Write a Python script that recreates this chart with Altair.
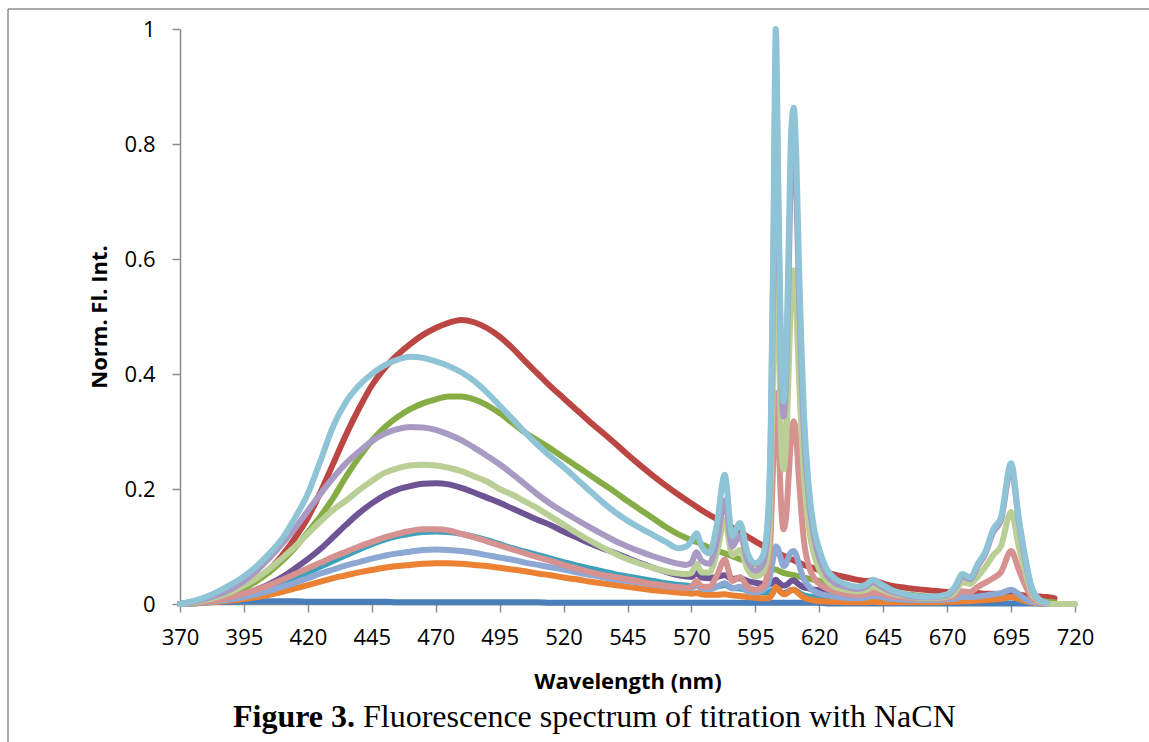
import altair as alt
import pandas as pd

# Wavelength grid (nm): coarse over the broad band, finer across the sharp emission lines
WL_BROAD = [370, 375, 380, 385, 390, 395, 400, 405, 410, 415,
            420, 425, 430, 435, 440, 445, 450, 455, 460, 465,
            470, 475, 480, 485, 490, 495, 500, 505, 510, 515,
            520, 525, 530, 535, 540, 545, 550, 555, 560, 565]
WL_LINES = [568, 570, 572, 574, 577, 580, 583, 586, 589, 592,
            595, 598, 600, 601, 602, 603, 604, 605, 606, 607,
            608, 609, 610, 611, 612, 613, 614, 616, 618, 620,
            623, 626, 630, 635, 638, 641, 644, 648, 652, 656,
            660, 665, 670, 673, 676, 679, 682, 685, 688, 691,
            695, 698, 700, 703, 706, 709, 712, 716, 720]
WAVELENGTH = WL_BROAD + WL_LINES

# Normalised fluorescence intensity of each titration step (broad band + line region)
S1 = [0, 0.002, 0.003, 0.004, 0.004, 0.005, 0.005, 0.005, 0.005, 0.005,
      0.004, 0.004, 0.004, 0.004, 0.004, 0.004, 0.004, 0.003, 0.003, 0.003,
      0.003, 0.003, 0.003, 0.003, 0.003, 0.003, 0.003, 0.003, 0.003, 0.002,
      0.002, 0.002, 0.002, 0.002, 0.002, 0.002, 0.002, 0.002, 0.002, 0.002] + \
     [0.002, 0.002, 0.002, 0.002, 0.002, 0.002, 0.002, 0.002, 0.002, 0.002,
      0.002, 0.002, 0.002, 0.002, 0.002, 0.002, 0.002, 0.002, 0.002, 0.002,
      0.002, 0.002, 0.002, 0.002, 0.002, 0.002, 0.002, 0.002, 0.002, 0.002,
      0.001, 0.001, 0.001, 0.001, 0.001, 0.001, 0.001, 0.001, 0.001, 0.001,
      0.001, 0.001, 0.001, 0.001, 0.001, 0.001, 0.001, 0.001, 0.001, 0.001,
      0.001, 0.001, 0.001, 0.001, 0.001, 0.0005, 0.0, None, None]

S2 = [0, 0.002, 0.005, 0.010, 0.018, 0.028, 0.042, 0.060, 0.085, 0.115,
      0.150, 0.195, 0.245, 0.295, 0.340, 0.380, 0.410, 0.433, 0.452, 0.468,
      0.480, 0.489, 0.494, 0.490, 0.480, 0.465, 0.445, 0.422, 0.400, 0.378,
      0.358, 0.338, 0.318, 0.299, 0.280, 0.260, 0.241, 0.223, 0.206, 0.190] + \
     [0.181, 0.175, 0.169, 0.163, 0.155, 0.148, 0.141, 0.133, 0.125, 0.117,
      0.109, 0.101, 0.096, 0.094, 0.092, 0.090, 0.088, 0.086, 0.084, 0.082,
      0.080, 0.078, 0.076, 0.074, 0.072, 0.070, 0.068, 0.065, 0.062, 0.059,
      0.055, 0.051, 0.047, 0.042, 0.040, 0.041, 0.037, 0.032, 0.029, 0.027,
      0.025, 0.023, 0.021, 0.020, 0.020, 0.019, 0.019, 0.018, 0.018, 0.017,
      0.017, 0.016, 0.015, 0.014, 0.013, 0.012, 0.010, None, None]

S3 = [0, 0.002, 0.005, 0.010, 0.017, 0.027, 0.040, 0.056, 0.075, 0.098,
      0.125, 0.153, 0.185, 0.222, 0.255, 0.284, 0.307, 0.325, 0.339, 0.349,
      0.356, 0.361, 0.361, 0.356, 0.346, 0.332, 0.315, 0.298, 0.284, 0.270,
      0.255, 0.240, 0.225, 0.210, 0.195, 0.179, 0.164, 0.149, 0.134, 0.121] + \
     [0.115, 0.111, 0.108, 0.104, 0.098, 0.093, 0.088, 0.083, 0.078, 0.074,
      0.070, 0.065, 0.062, 0.061, 0.060, 0.060, 0.058, 0.056, 0.054, 0.053,
      0.052, 0.051, 0.050, 0.049, 0.048, 0.047, 0.046, 0.044, 0.042, 0.040,
      0.037, 0.034, 0.031, 0.028, 0.029, 0.033, 0.028, 0.022, 0.018, 0.016,
      0.014, 0.012, 0.011, 0.010, 0.010, 0.009, 0.009, 0.009, 0.010, 0.011,
      0.014, 0.011, 0.008, 0.006, 0.005, 0.004, 0.003, None, None]

S4 = [0, 0.002, 0.004, 0.007, 0.010, 0.016, 0.025, 0.035, 0.047, 0.062,
      0.078, 0.096, 0.117, 0.138, 0.158, 0.175, 0.189, 0.199, 0.205, 0.209,
      0.210, 0.208, 0.202, 0.194, 0.185, 0.176, 0.166, 0.156, 0.146, 0.137,
      0.126, 0.116, 0.106, 0.097, 0.089, 0.080, 0.071, 0.063, 0.056, 0.050] + \
     [0.048, 0.047, 0.054, 0.046, 0.045, 0.047, 0.050, 0.044, 0.045, 0.040,
      0.037, 0.035, 0.034, 0.035, 0.038, 0.042, 0.038, 0.034, 0.032, 0.033,
      0.036, 0.040, 0.041, 0.038, 0.034, 0.031, 0.029, 0.027, 0.025, 0.024,
      0.022, 0.020, 0.018, 0.016, 0.016, 0.018, 0.016, 0.013, 0.011, 0.010,
      0.009, 0.009, 0.009, 0.010, 0.012, 0.012, 0.013, 0.014, 0.016, 0.017,
      0.022, 0.016, 0.010, 0.005, 0.002, 0.001, None, None, None]

S5 = [0, 0.001, 0.003, 0.006, 0.010, 0.015, 0.021, 0.028, 0.036, 0.045,
      0.055, 0.065, 0.075, 0.085, 0.095, 0.104, 0.112, 0.118, 0.122, 0.125,
      0.126, 0.125, 0.122, 0.117, 0.111, 0.104, 0.097, 0.091, 0.085, 0.079,
      0.073, 0.067, 0.062, 0.057, 0.052, 0.048, 0.044, 0.040, 0.036, 0.033] + \
     [0.032, 0.031, 0.034, 0.030, 0.029, 0.030, 0.033, 0.028, 0.027, 0.024,
      0.022, 0.020, 0.020, 0.022, 0.025, 0.028, 0.025, 0.021, 0.019, 0.020,
      0.022, 0.024, 0.025, 0.023, 0.020, 0.017, 0.015, 0.013, 0.012, 0.011,
      0.010, 0.009, 0.008, 0.007, 0.007, 0.008, 0.007, 0.006, 0.005, 0.005,
      0.005, 0.005, 0.005, 0.006, 0.007, 0.007, 0.008, 0.008, 0.009, 0.010,
      0.012, 0.008, 0.005, 0.002, 0.001, 0.000, None, None, None]

S6 = [0, 0.001, 0.002, 0.004, 0.006, 0.009, 0.012, 0.016, 0.021, 0.027,
      0.033, 0.039, 0.045, 0.050, 0.055, 0.059, 0.063, 0.066, 0.068, 0.070,
      0.071, 0.071, 0.070, 0.068, 0.066, 0.063, 0.060, 0.057, 0.053, 0.050,
      0.046, 0.043, 0.039, 0.036, 0.033, 0.030, 0.027, 0.024, 0.022, 0.020] + \
     [0.019, 0.018, 0.019, 0.017, 0.016, 0.016, 0.017, 0.015, 0.014, 0.012,
      0.011, 0.010, 0.010, 0.013, 0.020, 0.029, 0.026, 0.020, 0.017, 0.018,
      0.021, 0.024, 0.025, 0.022, 0.018, 0.014, 0.011, 0.008, 0.006, 0.005,
      0.004, 0.004, 0.003, 0.003, 0.003, 0.004, 0.003, 0.003, 0.003, 0.003,
      0.003, 0.003, 0.004, 0.004, 0.005, 0.005, 0.006, 0.007, 0.008, 0.009,
      0.012, 0.009, 0.006, 0.003, 0.001, 0.000, None, None, None]

S7 = [0, 0.001, 0.003, 0.005, 0.008, 0.012, 0.017, 0.023, 0.030, 0.037,
      0.045, 0.053, 0.060, 0.067, 0.073, 0.079, 0.084, 0.088, 0.091, 0.094,
      0.095, 0.094, 0.092, 0.089, 0.085, 0.081, 0.077, 0.072, 0.068, 0.064,
      0.060, 0.055, 0.051, 0.047, 0.043, 0.040, 0.037, 0.034, 0.031, 0.029] + \
     [0.028, 0.028, 0.032, 0.027, 0.026, 0.030, 0.036, 0.027, 0.030, 0.022,
      0.020, 0.024, 0.035, 0.055, 0.080, 0.100, 0.095, 0.078, 0.066, 0.070,
      0.082, 0.090, 0.092, 0.085, 0.070, 0.055, 0.043, 0.030, 0.022, 0.018,
      0.015, 0.013, 0.011, 0.010, 0.011, 0.014, 0.012, 0.009, 0.008, 0.007,
      0.007, 0.007, 0.008, 0.009, 0.012, 0.012, 0.013, 0.015, 0.017, 0.019,
      0.025, 0.017, 0.010, 0.004, 0.001, 0.000, None, None, None]

S8 = [0, 0.002, 0.004, 0.007, 0.012, 0.018, 0.025, 0.033, 0.042, 0.052,
      0.062, 0.072, 0.082, 0.091, 0.100, 0.108, 0.116, 0.122, 0.127, 0.130,
      0.130, 0.128, 0.122, 0.116, 0.109, 0.102, 0.095, 0.088, 0.081, 0.075,
      0.068, 0.062, 0.056, 0.051, 0.047, 0.043, 0.039, 0.035, 0.032, 0.029] + \
     [0.028, 0.030, 0.040, 0.030, 0.030, 0.050, 0.077, 0.040, 0.047, 0.030,
      0.025, 0.030, 0.060, 0.120, 0.250, 0.367, 0.300, 0.180, 0.130, 0.150,
      0.220, 0.290, 0.318, 0.290, 0.220, 0.160, 0.110, 0.065, 0.045, 0.035,
      0.027, 0.022, 0.018, 0.016, 0.017, 0.020, 0.018, 0.014, 0.012, 0.010,
      0.010, 0.010, 0.011, 0.014, 0.022, 0.021, 0.030, 0.037, 0.045, 0.055,
      0.092, 0.060, 0.038, 0.012, 0.003, 0.001, None, None, None]

S9 = [0, 0.003, 0.007, 0.013, 0.021, 0.032, 0.045, 0.061, 0.080, 0.100,
      0.122, 0.144, 0.164, 0.180, 0.198, 0.214, 0.228, 0.236, 0.241, 0.242,
      0.241, 0.237, 0.231, 0.222, 0.213, 0.200, 0.190, 0.178, 0.166, 0.152,
      0.138, 0.124, 0.111, 0.099, 0.088, 0.078, 0.070, 0.063, 0.057, 0.053] + \
     [0.052, 0.054, 0.070, 0.055, 0.055, 0.090, 0.146, 0.085, 0.094, 0.060,
      0.048, 0.055, 0.090, 0.200, 0.420, 0.670, 0.500, 0.300, 0.234, 0.280,
      0.400, 0.540, 0.580, 0.520, 0.400, 0.300, 0.220, 0.130, 0.085, 0.060,
      0.040, 0.030, 0.025, 0.022, 0.024, 0.030, 0.026, 0.019, 0.015, 0.012,
      0.011, 0.011, 0.013, 0.020, 0.038, 0.035, 0.048, 0.065, 0.085, 0.100,
      0.160, 0.100, 0.065, 0.020, 0.005, 0.001, 0.000, 0.000, 0.000]

S10 = [0, 0.004, 0.009, 0.016, 0.026, 0.040, 0.058, 0.080, 0.105, 0.132,
       0.162, 0.192, 0.220, 0.245, 0.265, 0.283, 0.296, 0.304, 0.308, 0.307,
       0.303, 0.295, 0.285, 0.272, 0.258, 0.243, 0.226, 0.208, 0.190, 0.174,
       0.160, 0.147, 0.134, 0.122, 0.110, 0.100, 0.091, 0.083, 0.076, 0.070] + \
      [0.068, 0.072, 0.090, 0.075, 0.070, 0.110, 0.180, 0.100, 0.120, 0.075,
       0.058, 0.070, 0.140, 0.280, 0.580, 0.930, 0.680, 0.420, 0.326, 0.390,
       0.570, 0.760, 0.800, 0.720, 0.550, 0.410, 0.300, 0.180, 0.115, 0.080,
       0.050, 0.037, 0.030, 0.026, 0.029, 0.038, 0.031, 0.022, 0.017, 0.013,
       0.012, 0.012, 0.015, 0.027, 0.048, 0.043, 0.066, 0.088, 0.125, 0.145,
       0.235, 0.145, 0.090, 0.027, 0.007, 0.002, None, None, None]

S11 = [0, 0.005, 0.012, 0.022, 0.034, 0.048, 0.066, 0.088, 0.114, 0.150,
       0.192, 0.250, 0.310, 0.352, 0.380, 0.400, 0.415, 0.425, 0.430, 0.428,
       0.422, 0.414, 0.403, 0.388, 0.368, 0.345, 0.322, 0.298, 0.276, 0.256,
       0.238, 0.218, 0.198, 0.178, 0.160, 0.145, 0.132, 0.120, 0.108, 0.097] + \
      [0.100, 0.110, 0.123, 0.100, 0.088, 0.140, 0.225, 0.118, 0.141, 0.088,
       0.071, 0.085, 0.160, 0.300, 0.620, 1.000, 0.720, 0.450, 0.352, 0.420,
       0.620, 0.820, 0.863, 0.780, 0.600, 0.450, 0.330, 0.200, 0.130, 0.095,
       0.060, 0.045, 0.035, 0.030, 0.033, 0.042, 0.035, 0.025, 0.019, 0.015,
       0.013, 0.013, 0.017, 0.030, 0.052, 0.046, 0.070, 0.092, 0.130, 0.150,
       0.245, 0.150, 0.095, 0.030, 0.008, 0.002, None, None, None]

SERIES = [S1, S2, S3, S4, S5, S6, S7, S8, S9, S10, S11]
COLORS = ["#4A7EBB", "#BB4643", "#86AC45", "#6E5495", "#3DA1BB", "#EB8132",
          "#8DA8D2", "#D69290", "#B9CF95", "#A89AC2", "#8FC3D6"]

PLOT_W, PLOT_H = 895, 575
PAD_L, PAD_T = 180, 29

AXIS_GRAY = "#8C8C8C"
SANS = "Open Sans"
SERIF = "Liberation Serif"

x_enc = alt.X(
    "wl:Q",
    scale=alt.Scale(domain=[370, 720], nice=False, zero=False),
    axis=alt.Axis(
        values=list(range(370, 721, 25)),
        title="Wavelength (nm)",
        titleY=77, titleBaseline="middle",
        labelBaseline="middle", labelPadding=25,
        labelOverlap=False, labelFlush=False,
    ),
)
y_enc = alt.Y(
    "v:Q",
    scale=alt.Scale(domain=[0, 1], nice=False),
    axis=alt.Axis(
        values=[0, 0.2, 0.4, 0.6, 0.8, 1.0],
        format=".1~f",
        title="Norm. Fl. Int.",
        titleX=-81, titleY=PLOT_H / 2, titleAngle=270,
        titleAlign="center", titleBaseline="middle",
        labelPadding=17,
    ),
)

layers = []
for vals, col in zip(SERIES, COLORS):
    df = pd.DataFrame({"wl": WAVELENGTH, "v": vals}).dropna()
    layers.append(
        alt.Chart(df).mark_line(
            color=col, strokeWidth=6, interpolate="monotone",
            strokeJoin="round", strokeCap="round",
        ).encode(x=x_enc, y=y_enc)
    )

one_row = pd.DataFrame({"k": [0]})

# Outer chart border (left and top edges)
border_left = alt.Chart(one_row).mark_rule(color=AXIS_GRAY, strokeWidth=1.5).encode(
    x=alt.value(8 - PAD_L), y=alt.value(9 - PAD_T), y2=alt.value(742 - PAD_T)
)
border_top = alt.Chart(one_row).mark_rule(color=AXIS_GRAY, strokeWidth=1.5).encode(
    x=alt.value(8 - PAD_L), x2=alt.value(1149 - PAD_L), y=alt.value(9 - PAD_T)
)

caption_bold = alt.Chart(one_row).mark_text(
    text="Figure 3.", font=SERIF, fontSize=32, fontWeight="bold",
    align="right", baseline="alphabetic", color="black",
).encode(x=alt.value(355 - PAD_L), y=alt.value(727 - PAD_T))
caption_rest = alt.Chart(one_row).mark_text(
    text="Fluorescence spectrum of titration with NaCN", font=SERIF, fontSize=32,
    align="left", baseline="alphabetic", color="black",
).encode(x=alt.value(363 - PAD_L), y=alt.value(727 - PAD_T))

chart = alt.layer(*layers, border_left, border_top, caption_bold, caption_rest).properties(
    width=PLOT_W, height=PLOT_H,
    autosize=alt.AutoSizeParams(type="none"),
    padding={"left": PAD_L, "top": PAD_T, "right": 1149 - PAD_L - PLOT_W, "bottom": 742 - PAD_T - PLOT_H},
    background="white",
).configure_view(stroke=None).configure_axis(
    grid=False,
    domainColor=AXIS_GRAY, domainWidth=1.5,
    tickColor=AXIS_GRAY, tickWidth=1.5, tickSize=8,
    labelFont=SANS, labelFontSize=22, labelColor="black",
    titleFont=SANS, titleFontSize=22, titleFontWeight="bold", titleColor="black",
)

chart.save("out.html", embed_options={"renderer": "svg", "actions": False})
